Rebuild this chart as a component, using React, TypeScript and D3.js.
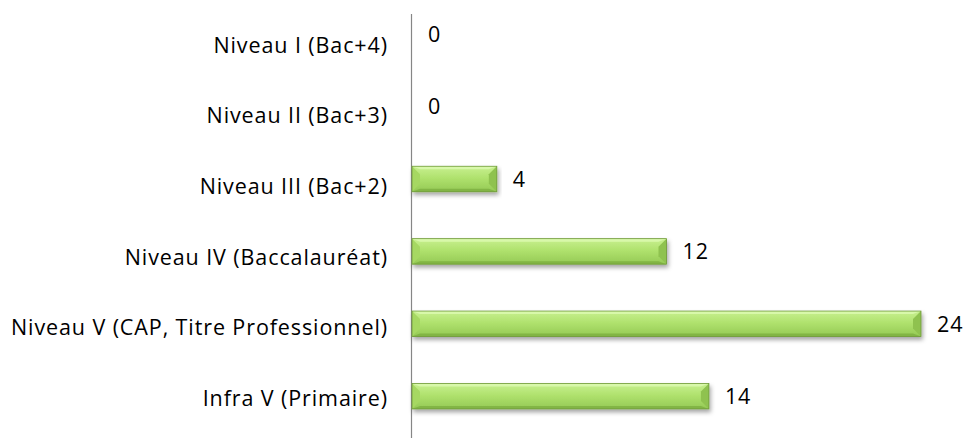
import React from "react";
import * as d3 from "d3";

const categories = [
  "Niveau I (Bac+4)",
  "Niveau II (Bac+3)",
  "Niveau III (Bac+2)",
  "Niveau IV (Baccalauréat)",
  "Niveau V (CAP, Titre Professionnel)",
  "Infra V (Primaire)",
];
const values = [0, 0, 4, 12, 24, 14];

const W = 964;
const H = 441;

export default function App() {
  const x = d3.scaleLinear().domain([0, 24]).range([412, 921]);
  const yBar = d3.scaleBand<string>().domain(categories).range([-2, 432.4]).paddingInner(0).paddingOuter(0);
  const yLab = d3.scaleBand<string>().domain(categories).range([11.7, 435.3]);
  const barH = 25.5;
  const b = 8;
  const font = "'Open Sans', sans-serif";
  const fs = 21.5;
  const ls = 0.9;

  return (
    <svg width={W} height={H} style={{ position: "absolute", left: 0, top: 0, background: "#fff" }}>
      <defs>
        <linearGradient id="face" x1="0" y1="0" x2="0" y2="1">
          <stop offset="0" stopColor="#c8f090" />
          <stop offset="0.45" stopColor="#b0e26e" />
          <stop offset="1" stopColor="#94c954" />
        </linearGradient>
        <filter id="sh" x="-5%" y="-30%" width="110%" height="180%">
          <feDropShadow dx="1.5" dy="3" stdDeviation="2" floodColor="#000" floodOpacity="0.35" />
        </filter>
      </defs>
      <line x1={411.5} x2={411.5} y1={14} y2={438} stroke="#868686" strokeWidth={1.2} />
      {categories.map((c, i) => {
        const v = values[i];
        const x0 = x(0);
        const x1 = x(v);
        const cy = (yBar(c) as number) + yBar.bandwidth() / 2;
        const y0 = cy - barH / 2;
        const y1 = cy + barH / 2;
        return (
          <g key={c}>
            {v > 0 && (
              <g filter="url(#sh)">
                <rect x={x0} y={y0} width={x1 - x0} height={barH} fill="url(#face)" />
                <polygon points={`${x0},${y0} ${x1},${y0} ${x1 - b},${y0 + 3} ${x0 + b},${y0 + 3}`} fill="#d8f8aa" />
                <polygon points={`${x0},${y1} ${x1},${y1} ${x1 - b},${y1 - 3} ${x0 + b},${y1 - 3}`} fill="#82b545" />
                <polygon points={`${x0},${y0} ${x0 + b},${y0 + b} ${x0 + b},${y1 - b} ${x0},${y1}`} fill="#a6d862" />
                <polygon points={`${x1},${y0} ${x1 - b},${y0 + b} ${x1 - b},${y1 - b} ${x1},${y1}`} fill="#8fc24f" />
                <rect x={x0} y={y0} width={x1 - x0} height={barH} fill="none" stroke="#6f9a3a" strokeWidth={0.8} />
              </g>
            )}
            <text x={x1 + 16} y={cy + 2} dominantBaseline="middle" fontFamily={font} fontSize={fs} letterSpacing={ls} fill="#000">
              {v}
            </text>
            <text
              x={388}
              y={(yLab(c) as number) + yLab.bandwidth() / 2}
              textAnchor="end"
              dominantBaseline="middle"
              fontFamily={font}
              fontSize={fs}
              letterSpacing={ls}
              fill="#000"
            >
              {c}
            </text>
          </g>
        );
      })}
    </svg>
  );
}
